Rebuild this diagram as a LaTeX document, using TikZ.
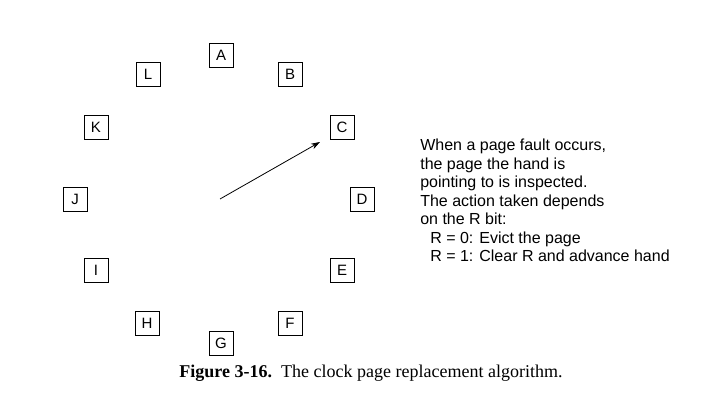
\documentclass[tikz,border=0pt]{standalone}
\usepackage{fontspec}
\setmainfont{Liberation Sans}
\newfontfamily\capfont{Liberation Serif}
\usepackage{tikz}
\usetikzlibrary{arrows,arrows.meta}

\begin{document}
\begin{tikzpicture}[x=1pt,y=-1pt,>=stealth',semithick]
  \tikzstyle{page}=[draw,thick,minimum size=24pt,inner sep=0pt,font=\fontsize{15}{17}\selectfont]
  \useasboundingbox (0,0) rectangle (701,419);

  \node[page] (A) at (221,55)  {A};
  \node[page] (B) at (290,74)  {B};
  \node[page] (C) at (342,127) {C};
  \node[page] (D) at (362,199) {D};
  \node[page] (E) at (342,270) {E};
  \node[page] (F) at (290,323) {F};
  \node[page] (G) at (221,343) {G};
  \node[page] (H) at (147,323) {H};
  \node[page] (I) at (96,270)  {I};
  \node[page] (J) at (75,199)  {J};
  \node[page] (K) at (96,127)  {K};
  \node[page] (L) at (148,74)  {L};

  \coordinate (hub) at (220,199);
  \coordinate (tip) at (320,142);
  \draw[-{Stealth[length=9pt,width=6pt]},thick] (hub) -- (tip);

  \node[anchor=north west,align=left,inner sep=0pt,
        font=\fontsize{16}{18.5}\selectfont] (note) at (420,139)
    {When a page fault occurs,\\
     the page the hand is\\
     pointing to is inspected.\\
     The action taken depends\\
     on the R bit:\\
     \hspace*{10pt}R = 0: Evict the page\\
     \hspace*{10pt}R = 1: Clear R and advance hand};

  \node[font=\capfont\fontsize{18}{20}\selectfont] (caption) at (371,373)
    {\textbf{Figure 3-16.}\ \ The clock page replacement algorithm.};
\end{tikzpicture}
\end{document}
